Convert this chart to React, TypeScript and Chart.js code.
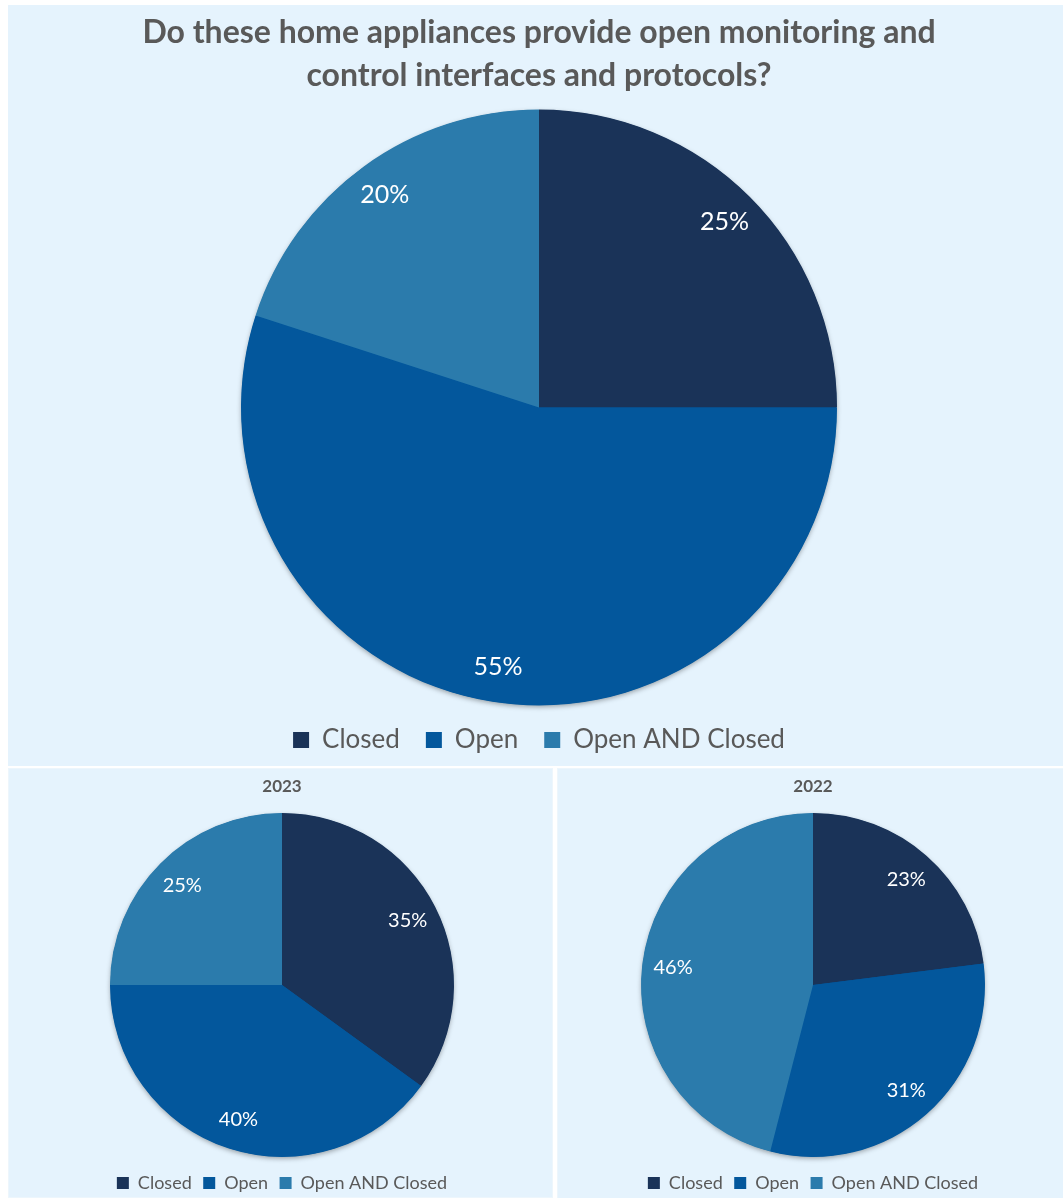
import React, { useEffect, useRef } from "react";
import { Chart, registerables } from "chart.js";

Chart.register(...registerables);

// ---------- data ----------
const categories = ["Closed", "Open", "Open AND Closed"];
const overallValues = [25, 55, 20];
const values2023 = [35, 40, 25];
const values2022 = [23, 31, 46];
const mainTitle = [
  "Do these home appliances provide open monitoring and",
  "control interfaces and protocols?",
];
const title2023 = "2023";
const title2022 = "2022";

// ---------- styles ----------
const sliceColors = ["#1a3358", "#03579c", "#2b7bac"];
const panelBg = "#e5f3fd";
const textGray = "#595959";
const FONT = "Lato, 'Open Sans', sans-serif";

const pieLabelPlugin = {
  id: "pieLabels",
  beforeDatasetsDraw(chart: any) {
    const meta = chart.getDatasetMeta(0);
    const arc = meta.data[0];
    if (!arc) return;
    const ctx = chart.ctx;
    ctx.save();
    ctx.shadowColor = "rgba(0,0,0,0.35)";
    ctx.shadowBlur = 5;
    ctx.shadowOffsetY = 2;
    ctx.fillStyle = sliceColors[1];
    ctx.beginPath();
    ctx.arc(arc.x, arc.y, arc.outerRadius - 0.5, 0, Math.PI * 2);
    ctx.fill();
    ctx.restore();
  },
  afterDatasetsDraw(chart: any, _args: any, opts: any) {
    const meta = chart.getDatasetMeta(0);
    const values = chart.data.datasets[0].data;
    const ctx = chart.ctx;
    ctx.save();
    ctx.fillStyle = "#ffffff";
    ctx.font = `${opts.size}px ${FONT}`;
    ctx.textAlign = "center";
    ctx.textBaseline = "middle";
    meta.data.forEach((a: any, i: number) => {
      const mid = (a.startAngle + a.endAngle) / 2;
      const r = a.outerRadius * opts.frac;
      ctx.fillText(values[i] + "%", a.x + Math.cos(mid) * r, a.y + Math.sin(mid) * r);
    });
    ctx.restore();
  },
};

type PieProps = {
  values: number[];
  title: string | string[];
  width: number;
  height: number;
  radius: number;
  titleSize: number;
  titleLineHeight: number | string;
  titlePadTop: number;
  titlePadBottom: number;
  padLeft: number;
  padRight: number;
  legendSize: number;
  legendBox: number;
  legendPad: number;
  labelSize: number;
  labelFrac: number;
};

function PieChart(p: PieProps) {
  const ref = useRef<HTMLCanvasElement>(null);
  useEffect(() => {
    if (!ref.current) return;
    const chart = new Chart(ref.current, {
      type: "pie",
      data: {
        labels: categories,
        datasets: [
          {
            data: p.values,
            backgroundColor: sliceColors,
            borderWidth: 0,
            radius: p.radius,
          } as any,
        ],
      },
      options: {
        animation: false,
        responsive: false,
        maintainAspectRatio: false,
        layout: { padding: { left: p.padLeft, right: p.padRight, top: 0, bottom: 0 } },
        plugins: {
          tooltip: { enabled: false },
          title: {
            display: true,
            text: p.title,
            color: textGray,
            font: { family: FONT, size: p.titleSize, weight: "bold", lineHeight: p.titleLineHeight },
            padding: { top: p.titlePadTop, bottom: p.titlePadBottom },
          },
          legend: {
            display: true,
            position: "bottom",
            labels: {
              color: textGray,
              font: { family: FONT, size: p.legendSize },
              boxWidth: p.legendBox,
              boxHeight: p.legendBox,
              padding: p.legendPad,
            },
          },
          pieLabels: { size: p.labelSize, frac: p.labelFrac },
        } as any,
      },
      plugins: [pieLabelPlugin],
    });
    return () => chart.destroy();
  }, []);
  return <canvas ref={ref} width={p.width} height={p.height} style={{ width: p.width, height: p.height, display: "block" }} />;
}

export default function App() {
  return (
    <div
      style={{
        position: "absolute",
        left: 0,
        top: 0,
        width: 1063,
        height: 1198,
        overflow: "hidden",
        background: "#ffffff",
      }}
    >
      <div
        style={{
          position: "absolute",
          left: 8,
          top: 5,
          width: 1055,
          height: 761,
          background: panelBg,
          overflow: "hidden",
        }}
      >
        <PieChart
          values={overallValues}
          title={mainTitle}
          width={1055}
          height={758}
          radius={298}
          titleSize={32}
          titleLineHeight={"43px"}
          titlePadTop={6.5}
          titlePadBottom={16.5}
          padLeft={7}
          padRight={0}
          legendSize={26}
          legendBox={16}
          legendPad={26}
          labelSize={25}
          labelFrac={0.88}
        />
      </div>
      <div
        style={{
          position: "absolute",
          left: 8,
          top: 768,
          width: 545,
          height: 430,
          background: panelBg,
          overflow: "hidden",
          boxSizing: "border-box",
          border: "1px solid #edf6fc",
        }}
      >
        <div style={{ position: "absolute", left: -1, top: -1 }}>
          <PieChart
            values={values2023}
            title={title2023}
            width={545}
            height={434}
            radius={172}
            titleSize={17}
            titleLineHeight={1.2}
            titlePadTop={8.8}
            titlePadBottom={10.3}
            padLeft={3}
            padRight={0}
            legendSize={18}
            legendBox={12}
            legendPad={11.5}
            labelSize={20}
            labelFrac={0.82}
          />
        </div>
      </div>
      <div
        style={{
          position: "absolute",
          left: 557,
          top: 768,
          width: 506,
          height: 430,
          background: panelBg,
          overflow: "hidden",
          boxSizing: "border-box",
          borderLeft: "1px solid #edf6fc",
          borderTop: "1px solid #edf6fc",
        }}
      >
        <div style={{ position: "absolute", left: -1, top: -1 }}>
          <PieChart
            values={values2022}
            title={title2022}
            width={506}
            height={434}
            radius={172}
            titleSize={17}
            titleLineHeight={1.2}
            titlePadTop={8.8}
            titlePadBottom={10.3}
            padLeft={6}
            padRight={0}
            legendSize={18}
            legendBox={12}
            legendPad={11.5}
            labelSize={20}
            labelFrac={0.82}
          />
        </div>
      </div>
    </div>
  );
}
